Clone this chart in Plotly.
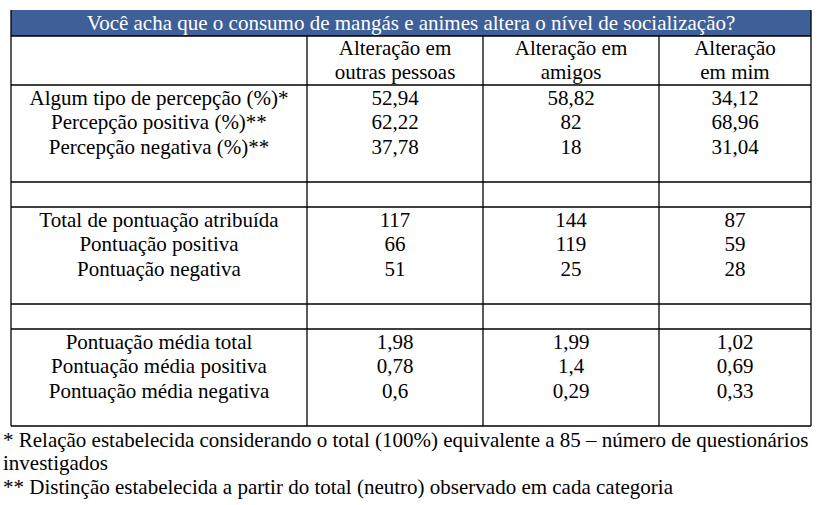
import plotly.graph_objects as go

# dados da tabela
titulo = "Você acha que o consumo de mangás e animes altera o nível de socialização?"
cabecalhos = [["Alteração em", "outras pessoas"], ["Alteração em", "amigos"], ["Alteração", "em mim"]]

rotulos_percepcao = ["Algum tipo de percepção (%)*", "Percepção positiva (%)**", "Percepção negativa (%)**"]
percepcao_outras = [52.94, 62.22, 37.78]
percepcao_amigos = [58.82, 82, 18]
percepcao_mim = [34.12, 68.96, 31.04]

rotulos_pontuacao = ["Total de pontuação atribuída", "Pontuação positiva", "Pontuação negativa"]
pontuacao_outras = [117, 66, 51]
pontuacao_amigos = [144, 119, 25]
pontuacao_mim = [87, 59, 28]

rotulos_media = ["Pontuação média total", "Pontuação média positiva", "Pontuação média negativa"]
media_outras = [1.98, 0.78, 0.6]
media_amigos = [1.99, 1.4, 0.29]
media_mim = [1.02, 0.69, 0.33]

notas = [
    "* Relação estabelecida considerando o total (100%) equivalente a 85 – número de questionários",
    "investigados",
    "** Distinção estabelecida a partir do total (neutro) observado em cada categoria",
]


def fmt(v):
    return f"{v:g}".replace(".", ",")


FONT = "Liberation Serif, Times New Roman, serif"
FS = 21
LH = 24.5
bordas_x = [11, 307, 483, 659, 811]
centros_x = [(bordas_x[i] + bordas_x[i + 1]) / 2 for i in range(4)]
topo_titulo, topo_cab = 10, 36
inicio_secoes = [85, 207, 329]
alt_secao = 97
fim_tabela = inicio_secoes[-1] + alt_secao

secoes = [
    (rotulos_percepcao, percepcao_outras, percepcao_amigos, percepcao_mim),
    (rotulos_pontuacao, pontuacao_outras, pontuacao_amigos, pontuacao_mim),
    (rotulos_media, media_outras, media_amigos, media_mim),
]

colunas_texto = [[], [], [], []]
colunas_y = [[], [], [], []]
for j, cab in enumerate(cabecalhos):
    for k, linha in enumerate(cab):
        colunas_texto[j + 1].append(linha)
        colunas_y[j + 1].append(topo_cab + 13.5 + k * LH)
for s, (rot, a, b, c) in enumerate(secoes):
    y0 = inicio_secoes[s] + 14.5
    for k in range(len(rot)):
        y = y0 + k * LH
        for j, val in enumerate([rot[k], fmt(a[k]), fmt(b[k]), fmt(c[k])]):
            colunas_texto[j].append(val)
            colunas_y[j].append(y)

fig = go.Figure()
for j in range(4):
    fig.add_trace(go.Scatter(
        x=[centros_x[j]] * len(colunas_y[j]), y=colunas_y[j],
        text=colunas_texto[j], mode="text", textposition="middle center",
        textfont=dict(family=FONT, size=FS, color="black"),
        hoverinfo="skip", showlegend=False))

# titulo
fig.add_shape(type="rect", x0=bordas_x[0], x1=bordas_x[-1], y0=topo_titulo, y1=topo_cab,
              fillcolor="#3E5F97", line=dict(width=0), layer="below")
fig.add_trace(go.Scatter(
    x=[(bordas_x[0] + bordas_x[-1]) / 2], y=[(topo_titulo + topo_cab) / 2 + 1.5],
    text=[titulo], mode="text", textposition="middle center",
    textfont=dict(family=FONT, size=FS, color="white"),
    hoverinfo="skip", showlegend=False))

# notas de rodape
fig.add_trace(go.Scatter(
    x=[3] * len(notas), y=[442, 465, 489], text=notas,
    mode="text", textposition="middle right",
    textfont=dict(family=FONT, size=FS, color="black"),
    hoverinfo="skip", showlegend=False))

# linhas da tabela
linha = dict(color="black", width=1.3)
for i, x in enumerate(bordas_x):
    top = topo_titulo if i in (0, len(bordas_x) - 1) else topo_cab
    fig.add_shape(type="line", x0=x, x1=x, y0=top, y1=fim_tabela, line=linha)
for y in [topo_cab] + [s for s in inicio_secoes] + [s + alt_secao for s in inicio_secoes]:
    fig.add_shape(type="line", x0=bordas_x[0], x1=bordas_x[-1], y0=y, y1=y, line=linha)

fig.update_xaxes(range=[0, 825], visible=False, fixedrange=True)
fig.update_yaxes(range=[505, 0], visible=False, fixedrange=True)
fig.update_layout(width=825, height=505, margin=dict(l=0, r=0, t=0, b=0),
                  plot_bgcolor="white", paper_bgcolor="white",
                  font=dict(family=FONT, size=FS))

fig.write_html("out.html", config={"displayModeBar": False},
               post_script="document.body.style.margin = '0';")
